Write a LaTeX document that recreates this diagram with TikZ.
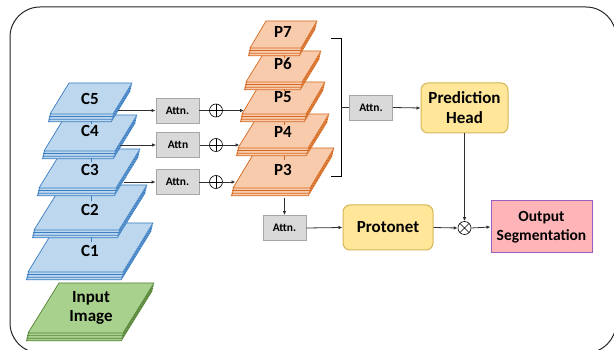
\documentclass[tikz,border=0pt]{standalone}
\usepackage{fontspec}
\setmainfont{Carlito}
\usetikzlibrary{arrows.meta,calc}
\definecolor{cfill}{HTML}{BDD7EE}
\definecolor{cline}{HTML}{3A7DC2}
\definecolor{pfill}{HTML}{F8CBAD}
\definecolor{pline}{HTML}{D5691F}
\definecolor{gfill}{HTML}{A9D18E}
\definecolor{gline}{HTML}{548235}
\definecolor{afill}{HTML}{D9D9D9}
\definecolor{aline}{HTML}{A6A6A6}
\definecolor{yfill}{HTML}{FFE699}
\definecolor{yline}{HTML}{D6B656}
\definecolor{ofill}{HTML}{FFB5B8}
\definecolor{oline}{HTML}{9E5CC0}
\definecolor{conn}{HTML}{303030}

% fill, line, topY, botY, TLx, TRx, BLx
\newcommand\layerstack[7]{%
  \foreach \k in {3,2,1,0}{%
    \pgfmathsetmacro\ldx{-0.6*\k}%
    \pgfmathsetmacro\ldy{2.6*\k}%
    \filldraw[fill=#1,draw=#2,line width=0.7pt,line join=round,shift={(\ldx,\ldy)}]
      (#5,#3) -- (#6,#3) -- ({#7+#6-#5},#4) -- (#7,#4) -- cycle;
  }%
}

\tikzset{
  lbl/.style={font=\bfseries\fontsize{17}{19}\selectfont, inner sep=0pt, align=center},
  attn/.style={draw=aline, fill=afill, line width=0.8pt, minimum width=43pt,
    minimum height=25pt, inner sep=0pt, font=\bfseries\fontsize{11.5}{13}\selectfont},
  headbox/.style={draw=yline, fill=yfill, line width=1pt, rounded corners=7pt,
    inner sep=0pt, align=center, font=\bfseries\fontsize{17}{20}\selectfont},
  outbox/.style={draw=oline, fill=ofill, line width=1pt, inner sep=0pt,
    align=center, font=\bfseries\fontsize{15.5}{19}\selectfont},
  opl/.style={circle, draw=black, line width=0.6pt, minimum size=13pt, inner sep=0pt,
    path picture={\draw[line width=0.6pt] (path picture bounding box.north) -- (path picture bounding box.south)
      (path picture bounding box.west) -- (path picture bounding box.east);}},
  otm/.style={circle, draw=black, line width=0.6pt, minimum size=13pt, inner sep=0pt,
    path picture={\draw[line width=0.6pt] (path picture bounding box.north west) -- (path picture bounding box.south east)
      (path picture bounding box.south west) -- (path picture bounding box.north east);}},
  arr/.style={-{Latex[length=4pt,width=3.5pt]}, line width=0.8pt, draw=conn},
  ln/.style={line width=0.8pt, draw=conn},
  tickc/.style={draw=cline, line width=0.7pt},
  tickp/.style={draw=pline, line width=0.7pt},
}

\begin{document}
\begin{tikzpicture}[x=1pt,y=-1pt]
\useasboundingbox (0,0) rectangle (614,350);
\fill[white] (0,0) rectangle (614,350);
\draw[line width=1pt, draw=black!85, rounded corners=30pt] (10,7) rectangle (616,353);

% input image
\layerstack{gfill}{gline}{283}{333}{59}{154}{28}
\node[lbl] (inp) at (91,308) {Input\\Image};

% C layers (bottom first)
\layerstack{cfill}{cline}{223}{272}{58}{153}{28}
\node[lbl] (c1) at (90,251) {C1};
\layerstack{cfill}{cline}{185}{230}{62}{147}{34}
\node[lbl] (c2) at (90,210) {C2};
\layerstack{cfill}{cline}{149}{188}{63}{140}{39}
\node[lbl] (c3) at (90,170) {C3};
\layerstack{cfill}{cline}{115}{151}{66}{137}{44}
\node[lbl] (c4) at (90,131) {C4};
\layerstack{cfill}{cline}{83}{114}{69}{132}{50}
\node[lbl] (c5) at (90,98.5) {C5};

\draw[tickc] (91,121) -- (91,124.5);
\draw[tickc] (91,158) -- (91,162);
\draw[tickc] (91,196) -- (91,201);
\draw[tickc] (91,237) -- (91,242);

% P layers (bottom first)
\layerstack{pfill}{pline}{148}{188}{257}{334}{233}
\node[lbl] (p3) at (283,170) {P3};
\layerstack{pfill}{pline}{114}{148}{259}{329}{238}
\node[lbl] (p4) at (283,132) {P4};
\layerstack{pfill}{pline}{82}{114}{261}{325}{242}
\node[lbl] (p5) at (283,97) {P5};
\layerstack{pfill}{pline}{51}{82}{265}{321}{246}
\node[lbl] (p6) at (283,64) {P6};
\layerstack{pfill}{pline}{21}{48}{266}{317}{250}
\node[lbl] (p7) at (283,32) {P7};

\draw[tickp] (284,55) -- (284,58);
\draw[tickp] (284,89) -- (284,91);
\draw[tickp] (284,122) -- (284,125);
\draw[tickp] (284,156) -- (284,160);

% attention blocks
\node[attn] (a1) at (177.5,110.5) {Attn.};
\node[attn] (a2) at (178,145) {Attn};
\node[attn] (a3) at (177.5,182) {Attn.};
\node[attn] (a4) at (284.5,228) {Attn.};
\node[attn] (a5) at (371,107.5) {Attn.};

% sums
\node[opl] (s1) at (216,110.5) {};
\node[opl] (s2) at (216,145) {};
\node[opl] (s3) at (216,182) {};

% coordinates on layers
\coordinate (c5r) at (118,110.5);
\coordinate (c4r) at (120,145);
\coordinate (c3r) at (124,182);
\coordinate (p5l) at (244,110.5);
\coordinate (p4l) at (239.5,145);
\coordinate (p3l) at (235.5,182);
\coordinate (p3b) at (284.5,198);

\draw[arr] (c5r) -- (a1.west);
\draw[arr] (c4r) -- (a2.west);
\draw[arr] (c3r) -- (a3.west);
\draw[ln] (a1.east) -- (s1.west);
\draw[ln] (a2.east) -- (s2.west);
\draw[ln] (a3.east) -- (s3.west);
\draw[arr] (s1.east) -- (p5l);
\draw[arr] (s2.east) -- (p4l);
\draw[arr] (s3.east) -- (p3l);

% bracket
\coordinate (bt) at (331,38);
\coordinate (bb) at (331,176);
\draw[line width=0.9pt, draw=black] (bt) -- (341,38) -- (341,176) -- (bb);
\coordinate (bm) at (341,107.5);
\draw[ln] (bm) -- (a5.west);

% heads
\node[headbox, minimum width=87pt, minimum height=50pt] (ph) at (464.5,108) {Prediction\\Head};
\node[headbox, minimum width=90pt, minimum height=45pt] (pn) at (388,227.5) {Protonet};
\node[otm] (m) at (464.5,228) {};
\node[outbox, minimum width=101pt, minimum height=52pt] (out) at (541.5,227) {Output\\Segmentation};

\draw[arr] (a5.east) -- (ph.west);
\draw[arr] (p3b) -- (a4.north);
\draw[arr] (a4.east) -- (pn.west);
\draw[arr] (pn.east) -- (m.west);
\draw[arr] (ph.south) -- (m.north);
\draw[arr] (m.east) -- (out.west);
\end{tikzpicture}
\end{document}
